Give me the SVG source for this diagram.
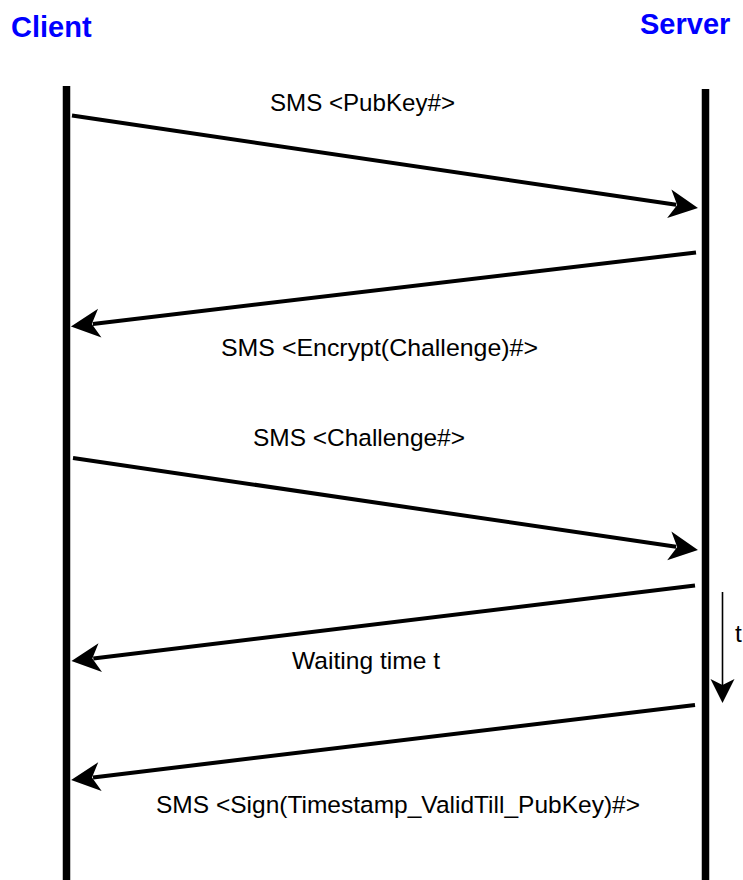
<svg xmlns="http://www.w3.org/2000/svg" width="743" height="880" viewBox="0 0 743 880">
  <style>
    .actor { font-family: "Liberation Sans", Arial, Helvetica, sans-serif; font-weight: bold; font-size: 29px; fill: #0000ff; }
    .label { font-family: "Liberation Sans", Arial, Helvetica, sans-serif; font-size: 24.5px; fill: #000000; }
    .lifeline { stroke: #000000; stroke-width: 7.5; fill: none; }
    .msg { stroke: #000000; stroke-width: 4; fill: none; marker-end: url(#head); }
    .timer { stroke: #000000; stroke-width: 1.6; fill: none; marker-end: url(#thin-head); }
  </style>
  <defs>
    <!-- concave filled arrowhead; tip sits 22px beyond the line end -->
    <marker id="head" markerUnits="userSpaceOnUse" viewBox="-10 -16 34 32" refX="0" refY="0" markerWidth="34" markerHeight="32" orient="auto" overflow="visible">
      <path d="M22,0 L-7,-14.5 L1,0 L-7,14.5 Z" fill="#000000"/>
    </marker>
    <marker id="thin-head" markerUnits="userSpaceOnUse" viewBox="-8 -14 28 28" refX="0" refY="0" markerWidth="28" markerHeight="28" orient="auto" overflow="visible">
      <path d="M17,0 L-7,-12 L-1,0 L-7,12 Z" fill="#000000"/>
    </marker>
  </defs>

  <rect width="743" height="880" fill="#ffffff"/>

  <g id="client">
    <text class="actor" x="11" y="37">Client</text>
    <line class="lifeline" x1="66.5" y1="86" x2="66.5" y2="880"/>
  </g>

  <g id="server">
    <text class="actor" x="640" y="34">Server</text>
    <line class="lifeline" x1="705.5" y1="89" x2="705.5" y2="880"/>
  </g>

  <g id="connectors">
    <line class="msg" x1="72" y1="115.5" x2="676.2" y2="204.8"/>
    <line class="msg" x1="696" y1="252.5" x2="92.8" y2="323.9"/>
    <line class="msg" x1="73" y1="458" x2="676.2" y2="546.8"/>
    <line class="msg" x1="695" y1="585.5" x2="93.3" y2="658.4"/>
    <line class="msg" x1="695" y1="705" x2="93" y2="777.4"/>
    <line class="timer" x1="722.5" y1="592" x2="722.5" y2="686"/>
  </g>

  <g id="labels">
    <text class="label" x="270" y="111" textLength="185" lengthAdjust="spacingAndGlyphs">SMS &lt;PubKey#&gt;</text>
    <text class="label" x="221" y="356" textLength="317" lengthAdjust="spacingAndGlyphs">SMS &lt;Encrypt(Challenge)#&gt;</text>
    <text class="label" x="253" y="446" textLength="212" lengthAdjust="spacingAndGlyphs">SMS &lt;Challenge#&gt;</text>
    <text class="label" x="292" y="669" textLength="148" lengthAdjust="spacingAndGlyphs">Waiting time t</text>
    <text class="label" x="156" y="813" textLength="484" lengthAdjust="spacingAndGlyphs">SMS &lt;Sign(Timestamp_ValidTill_PubKey)#&gt;</text>
    <text class="label" x="735" y="642">t</text>
  </g>
</svg>
